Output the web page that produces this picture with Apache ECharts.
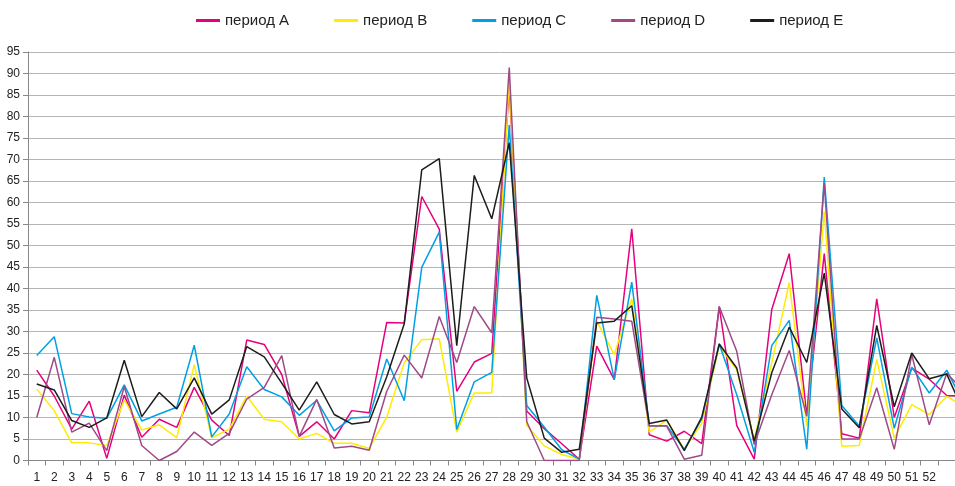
<!DOCTYPE html>
<html>
<head>
<meta charset="utf-8">
<script src="https://cdn.jsdelivr.net/npm/echarts@6/dist/echarts.min.js"></script>
<style>
html,body{margin:0;padding:0;background:#fff;overflow:hidden;width:955px;height:486px;}
#chart{width:975px;height:486px;}
</style>
</head>
<body>
<div id="chart"></div>
<script>
const categories = ['1','2','3','4','5','6','7','8','9','10','11','12','13','14','15','16','17','18','19','20','21','22','23','24','25','26','27','28','29','30','31','32','33','34','35','36','37','38','39','40','41','42','43','44','45','46','47','48','49','50','51','52','',''];
const yTicks = [0,5,10,15,20,25,30,35,40,45,50,55,60,65,70,75,80,85,90,95];
const seriesNames = ['период A','период B','период C','период D','период E'];

const periodA = [21,15,7.3,13.8,0.5,15.2,5.4,9.6,7.7,17,9.4,5.8,28,27,20,5.6,9,5,11.6,11.1,32.1,32,61.4,53.8,16.1,22.9,24.9,87,11.5,7.4,3.9,0.3,26.6,18.8,53.9,6,4.5,6.8,3.9,35.8,8.1,0.3,35.1,48.1,10.5,48.1,6.2,5.2,37.6,10,21.5,18.9,15.1,15];
const periodB = [16.6,11.6,4.1,4.1,3.5,14.1,7.1,8.3,5.3,22.3,5.3,7.3,15,9.6,9,5,6.3,4,4,2.8,10.1,22.7,28.1,28.3,6.6,15.7,15.7,88.5,8.2,3.4,1.4,0.3,32.4,24.6,37.6,6.6,9.4,2.6,8.7,26.6,21.1,4.9,22.7,41.4,8,57.9,3.3,3.5,23.5,5.2,13,10.7,14.9,12.5];
const periodC = [24.4,28.8,10.9,10.1,9.8,17.6,9.2,10.8,12.4,26.8,5.5,10.8,21.8,16.5,14.8,10.5,14,6.9,9.9,10.1,23.6,13.9,44.9,53.1,7.2,18.3,20.5,78,12.8,7.8,2.5,0.3,38.4,18.8,41.5,8.1,8.1,2.6,9.7,27.1,15.3,1.9,26.7,32.6,2.6,65.9,12.8,8,28.5,7.5,21.7,15.7,21,13];
const periodD = [10,24,6.6,8.7,2.3,17.2,3.5,0,2.1,6.6,3.5,6.3,14.3,17,24.4,5.6,14.2,2.9,3.3,2.4,16.1,24.5,19.2,33.5,22.8,35.8,29.7,91.4,9,0,0,0,33.3,32.9,32.4,8,8,0.3,1.2,35.8,25.4,3.7,15.3,25.6,10.3,64.5,5,5,16.9,2.6,24.6,8.3,20.3,16];
const periodE = [17.8,16.4,9.3,7.7,9.9,23.3,10.2,15.8,12,19.2,10.8,14.1,26.5,24.1,18,11.7,18.3,10.7,8.5,9,19.5,31.8,67.6,70.2,26.7,66.3,56.2,73.9,19.2,5.2,1.9,2.6,32,32.4,36,8.6,9.4,2.3,10.1,27.1,21.5,4.5,20.4,31,22.8,43.6,12,7.6,31.4,12.5,25,19,20.1,11];

const colors = ['#e6007e','#ffec00','#00a0e3','#9e4a88','#1d1d1b'];
const allData = [periodA, periodB, periodC, periodD, periodE];

const chart = echarts.init(document.getElementById('chart'), null, {renderer:'canvas'});
const font = '"Liberation Sans", Arial, sans-serif';
chart.setOption({
  animation: false,
  backgroundColor: '#ffffff',
  legend: {
    left: 191,
    top: 8,
    itemWidth: 24,
    itemHeight: 3,
    itemGap: 45,
    icon: 'rect',
    textStyle: {fontFamily: font, fontSize: 15, color: '#222'},
    data: seriesNames
  },
  grid: {left: 28, top: 52, width: 945, height: 408.5, containLabel: false},
  xAxis: {
    type: 'category',
    data: categories,
    boundaryGap: true,
    axisLine: {lineStyle: {color: '#888', width: 1}},
    axisTick: {show: true, length: 5, alignWithLabel: false, interval: 0, lineStyle: {color: '#888'}},
    axisLabel: {interval: 0, margin: 11, fontFamily: font, fontSize: 12, color: '#222'},
    splitLine: {show: false}
  },
  yAxis: {
    type: 'value',
    min: 0, max: 95, interval: 5,
    axisLine: {show: true, lineStyle: {color: '#888', width: 1}},
    axisTick: {show: true, length: 5, lineStyle: {color: '#888'}},
    axisLabel: {margin: 8, fontFamily: font, fontSize: 12, color: '#222'},
    splitLine: {show: true, lineStyle: {color: '#b5b5b5', width: 1}}
  },
  series: seriesNames.map((n, i) => ({
    name: n,
    type: 'line',
    data: allData[i],
    showSymbol: false,
    symbol: 'none',
    smooth: false,
    color: colors[i],
    lineStyle: {color: colors[i], width: 1.5},
    itemStyle: {color: colors[i]}
  }))
});
</script>
</body>
</html>
